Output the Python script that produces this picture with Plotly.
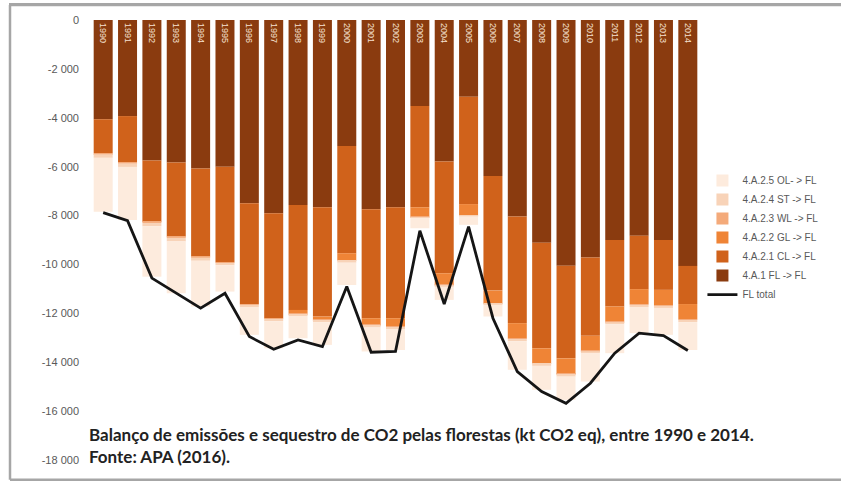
import plotly.graph_objects as go

years = [str(y) for y in range(1990, 2015)]

# kt CO2 eq (negative = sequestration)
fl_fl = [-4060, -3930, -5750, -5830, -6070, -6000, -7500, -7910, -7570, -7660, -5150, -7740, -7660,
         -3520, -5790, -3140, -6380, -8040, -9110, -10050, -9720, -9000, -8830, -9000, -10060]
cl_fl = [-1390, -1890, -2500, -3030, -3610, -3910, -4120, -4290, -4290, -4470, -4390, -4460, -4540,
         -4140, -4570, -4390, -4690, -4360, -4320, -3790, -3200, -2720, -2180, -2040, -1560]
gl_fl = [0, 0, 0, 0, 0, 0, 0, 0, -140, -120, -280, -270, -340,
         -380, -480, -450, -520, -620, -610, -640, -600, -610, -610, -620, -620]
wl_fl = [-40, -40, -50, -50, -40, -30, -30, -30, -30, -30, -30, -30, -30,
         -20, -20, -20, -20, -30, -30, -30, -30, -30, -30, -30, -30]
st_fl = [-150, -150, -140, -150, -130, -90, -90, -90, -80, -80, -80, -80, -70,
         -40, -50, -30, -40, -90, -80, -80, -90, -90, -90, -90, -90]
ol_fl = [-2200, -2170, -2060, -2120, -1870, -1080, -1140, -1110, -910, -930, -910, -980, -860,
         -420, -540, -350, -480, -1170, -980, -950, -1150, -1180, -1070, -1100, -1140]
fl_total = [-7880, -8210, -10560, -11170, -11790, -11180, -12950, -13470, -13090, -13360, -10900,
            -13590, -13560, -8620, -11620, -8450, -12200, -14380, -15200, -15680, -14860, -13630,
            -12810, -12910, -13520]

tick_vals = [0, -2000, -4000, -6000, -8000, -10000, -12000, -14000, -16000, -18000]
tick_text = ["0", "-2 000", "-4 000", "-6 000", "-8 000", "-10 000", "-12 000", "-14 000",
             "-16 000", "-18 000"]

caption_1 = "Balanço de emissões e sequestro de CO2 pelas florestas (kt CO2 eq), entre 1990 e 2014."
caption_2 = "Fonte: APA (2016)."

series = [
    ("4.A.1 FL -> FL", fl_fl, "#8a3b0f", 6),
    ("4.A.2.1 CL -> FL", cl_fl, "#d0621b", 5),
    ("4.A.2.2 GL -> FL", gl_fl, "#ef8436", 4),
    ("4.A.2.3 WL -> FL", wl_fl, "#f4aa7a", 3),
    ("4.A.2.4 ST -> FL", st_fl, "#f8d3b8", 2),
    ("4.A.2.5 OL- > FL", ol_fl, "#fdebdd", 1),
]

fig = go.Figure()
for i, (name, vals, col, rank) in enumerate(series):
    kw = {}
    if i == 0:
        kw = dict(text=years, textposition="inside", insidetextanchor="start", textangle=90,
                  textfont=dict(size=9, color="#f6e2d2", family="Liberation Sans"))
    fig.add_trace(go.Bar(x=years, y=vals, name=name, marker=dict(color=col, line=dict(width=0)),
                         legendrank=rank, **kw))

fig.add_trace(go.Scatter(x=years, y=fl_total, name="FL total", mode="lines",
                         line=dict(color="#151515", width=2.8), legendrank=7))

fig.update_layout(
    width=841, height=482,
    margin=dict(l=91, r=141, t=20, b=22),
    barmode="relative", bargap=0.22,
    plot_bgcolor="white", paper_bgcolor="white",
    font=dict(family="Liberation Sans", color="#595959", size=11),
    showlegend=True,
    legend=dict(x=1.004, y=0.668, xanchor="left", yanchor="top", font=dict(size=10, color="#595959"),
                bgcolor="rgba(0,0,0,0)", itemwidth=30, tracegroupgap=0),
    xaxis=dict(showticklabels=False, showgrid=False, zeroline=False, showline=False,
               range=[-0.5, 24.5], fixedrange=True),
    yaxis=dict(range=[-18000, 0], tickvals=tick_vals, ticktext=tick_text, showgrid=False,
               zeroline=False, showline=False, ticks="", ticklabelstandoff=11,
               tickfont=dict(size=11, color="#595959")),
    uniformtext=dict(minsize=8, mode="show"),
)

border = dict(color="#a6a6a6", width=2.5)
fig.add_shape(type="line", xref="paper", yref="paper", x0=-0.133, x1=1.26, y0=1.034, y1=1.034, line=border)
fig.add_shape(type="line", xref="paper", yref="paper", x0=-0.133, x1=1.26, y0=-0.045, y1=-0.045, line=border)
fig.add_shape(type="line", xref="paper", yref="paper", x0=-0.133, x1=-0.133, y0=-0.045, y1=1.034, line=border)

fig.add_annotation(xref="paper", yref="paper", x=-0.007, y=0.059, xanchor="left", yanchor="middle",
                   align="left", showarrow=False, text="<b>" + caption_1 + "</b>",
                   font=dict(family="Lato", size=17, color="#222222"))
fig.add_annotation(xref="paper", yref="paper", x=-0.007, y=0.007, xanchor="left", yanchor="middle",
                   align="left", showarrow=False, text="<b>" + caption_2 + "</b>",
                   font=dict(family="Lato", size=17, color="#222222"))

post = (
    "document.body.style.margin='0px';document.body.style.overflow='hidden';"
    "var b=document.createElement('div');"
    "b.style.cssText='position:absolute;left:9px;top:3px;width:850px;height:2px;"
    "background:#a6a6a6;pointer-events:none;z-index:1000;';"
    "document.body.appendChild(b);"
)
fig.write_html("out.html", config={"displayModeBar": False}, post_script=post)
